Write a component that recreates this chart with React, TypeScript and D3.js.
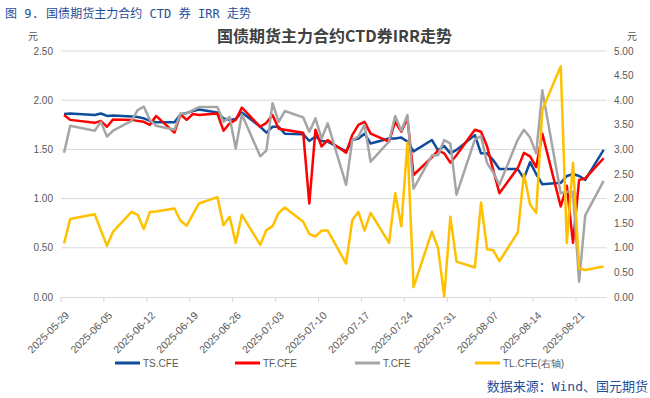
import React from 'react';
import * as d3 from 'd3';

const dates = [
  '2025-05-29', '2025-05-30', '2025-06-03', '2025-06-04', '2025-06-05', '2025-06-06', '2025-06-09', '2025-06-10',
  '2025-06-11', '2025-06-12', '2025-06-13', '2025-06-16', '2025-06-17', '2025-06-18', '2025-06-19', '2025-06-20',
  '2025-06-23', '2025-06-24', '2025-06-25', '2025-06-26', '2025-06-27', '2025-06-30', '2025-07-01', '2025-07-02',
  '2025-07-03', '2025-07-04', '2025-07-07', '2025-07-08', '2025-07-09', '2025-07-10', '2025-07-11', '2025-07-14',
  '2025-07-15', '2025-07-16', '2025-07-17', '2025-07-18', '2025-07-21', '2025-07-22', '2025-07-23', '2025-07-24',
  '2025-07-25', '2025-07-28', '2025-07-29', '2025-07-30', '2025-07-31', '2025-08-01', '2025-08-04', '2025-08-05',
  '2025-08-06', '2025-08-07', '2025-08-08', '2025-08-11', '2025-08-12', '2025-08-13', '2025-08-14', '2025-08-15',
  '2025-08-18', '2025-08-19', '2025-08-20', '2025-08-21', '2025-08-22', '2025-08-25',
];

const tsValues = [
  1.86, 1.865, 1.85, 1.865, 1.84, 1.845, 1.835, 1.83, 1.815, 1.79, 1.775, 1.775, 1.855, 1.87, 1.89, 1.905,
  1.875, 1.815, 1.80, 1.81, 1.875, 1.73, 1.67, 1.73, 1.73, 1.66, 1.655, 1.585, 1.63, 1.585, 1.58, 1.48,
  1.595, 1.61, 1.66, 1.56, 1.61, 1.61, 1.62, 1.58, 1.48, 1.595, 1.49, 1.535, 1.46, 1.495, 1.645, 1.46,
  1.46, 1.39, 1.30, 1.30, 1.205, 1.37, 1.25, 1.145, 1.16, 1.23, 1.25, 1.23, 1.19, 1.495,
];

const tfValues = [
  1.85, 1.80, 1.77, 1.79, 1.73, 1.805, 1.80, 1.79, 1.78, 1.75, 1.84, 1.67, 1.855, 1.80, 1.86, 1.85,
  1.865, 1.69, 1.765, 1.80, 1.925, 1.73, 1.77, 1.85, 1.71, 1.70, 1.67, 0.95, 1.70, 1.53, 1.595, 1.465,
  1.645, 1.75, 1.78, 1.66, 1.58, 1.78, 1.68, 1.815, 1.24, 1.42, 1.49, 1.46, 1.365, 1.44, 1.70, 1.68,
  1.53, 1.29, 1.055, 1.31, 1.465, 1.43, 1.32, 1.66, 0.92, 1.13, 0.55, 1.19, 1.205, 1.41,
];

const tValues = [
  1.465, 1.74, 1.69, 1.78, 1.63, 1.69, 1.79, 1.90, 1.935, 1.80, 1.74, 1.70, 1.865, 1.865, 1.90, 1.93,
  1.93, 1.78, 1.83, 1.51, 1.855, 1.43, 1.49, 1.97, 1.78, 1.89, 1.825, 1.68, 1.815, 1.61, 1.765, 1.14,
  1.595, 1.63, 1.75, 1.375, 1.58, 1.84, 1.69, 1.85, 1.10, 1.44, 1.44, 1.595, 1.56, 1.04, 1.60, 1.635,
  1.36, 1.265, 1.14, 1.60, 1.70, 1.62, 1.46, 2.10, 1.055, 1.07, 1.07, 0.155, 0.83, 1.18,
];

// TL 用右轴
const tlValues = [
  1.09, 1.585, 1.68, 1.36, 1.04, 1.33, 1.73, 1.67, 1.38, 1.73, 1.74, 1.80, 1.55, 1.45, 1.68, 1.90,
  2.03, 1.46, 1.63, 1.10, 1.67, 1.06, 1.36, 1.44, 1.71, 1.82, 1.53, 1.28, 1.23, 1.35, 1.35, 0.68,
  1.56, 1.73, 1.35, 1.71, 1.10, 2.11, 1.44, 3.14, 0.20, 1.33, 0.99, 0.01, 1.63, 0.72, 0.60, 1.92,
  0.97, 0.95, 0.73, 1.31, 2.50, 1.88, 1.71, 3.80, 4.69, 1.10, 2.73, 0.58, 0.55, 0.62,
];

const leftTicks = [0, 0.5, 1, 1.5, 2, 2.5];
const rightTicks = [0, 0.5, 1, 1.5, 2, 2.5, 3, 3.5, 4, 4.5, 5];

const series = [
  { name: 'TS.CFE', values: tsValues, color: '#0E4C9C', right: false },
  { name: 'TF.CFE', values: tfValues, color: '#FF0000', right: false },
  { name: 'T.CFE', values: tValues, color: '#A5A5A5', right: false },
  { name: 'TL.CFE(右轴)', values: tlValues, color: '#FFC000', right: true },
];

const parse = d3.timeParse('%Y-%m-%d');
const fmt = d3.timeFormat('%Y-%m-%d');

export default function App() {
  const left = 61, right = 606.7, top = 51, bottom = 297;
  const start = parse(dates[0]) as Date;
  const end = d3.timeDay.offset(parse(dates[dates.length - 1]) as Date, 1);

  const x = d3.scaleTime().domain([start, end]).range([left, right]);
  const yL = d3.scaleLinear().domain([0, 2.5]).range([bottom, top]);
  const yR = d3.scaleLinear().domain([0, 5]).range([bottom, top]);

  // 点位于每天的中间
  const px = (s: string) => x(d3.timeHour.offset(parse(s) as Date, 12));
  const xTicks = d3.timeDay.range(start, end, 7);

  const cjk = "'Noto Sans CJK SC', sans-serif";
  const mono = "'DejaVu Sans Mono', 'Noto Sans CJK SC', monospace";
  const num = "'Liberation Sans', sans-serif";
  const gray = '#595959';
  const blue = '#1F4E99';

  return (
    <svg width={650} height={398} style={{ position: 'absolute', left: 0, top: 0, background: '#fff' }}>
      <text x={5} y={18} fontSize={12} fill={blue} fontFamily={mono} textLength={246} lengthAdjust="spacing">
        图 9. 国债期货主力合约 CTD 券 IRR 走势
      </text>
      <text x={334.5} y={41.5} fontSize={16} fontWeight="bold" fill="#404040" textAnchor="middle" fontFamily={cjk}>
        国债期货主力合约CTD券IRR走势
      </text>
      <text x={33} y={40} fontSize={10} fill={gray} textAnchor="middle" fontFamily={cjk}>元</text>
      <text x={632} y={40} fontSize={10} fill={gray} textAnchor="middle" fontFamily={cjk}>元</text>

      {leftTicks.map((t) => (
        <g key={'l' + t}>
          {t > 0 && <line x1={left} x2={right} y1={yL(t)} y2={yL(t)} stroke="#D9D9D9" strokeWidth={1} />}
          <text x={53} y={yL(t) + 3.5} fontSize={10} fill={gray} textAnchor="end" fontFamily={num}>
            {d3.format('.2f')(t)}
          </text>
        </g>
      ))}
      {rightTicks.map((t) => (
        <text key={'r' + t} x={614} y={yR(t) + 3.5} fontSize={10} fill={gray} fontFamily={num}>
          {d3.format('.2f')(t)}
        </text>
      ))}

      <line x1={left} x2={right} y1={bottom + 0.5} y2={bottom + 0.5} stroke="#D9D9D9" strokeWidth={1} />
      {xTicks.map((d) => (
        <g key={fmt(d)}>
          <line x1={x(d)} x2={x(d)} y1={bottom} y2={bottom + 5} stroke="#D9D9D9" strokeWidth={1} />
          <text
            transform={`translate(${x(d) + 9},${bottom + 19}) rotate(-45)`}
            fontSize={10.5}
            fill={gray}
            textAnchor="end"
            fontFamily={num}
          >
            {fmt(d)}
          </text>
        </g>
      ))}

      {series.map((s) => {
        const y = s.right ? yR : yL;
        const line = d3.line<number>()
          .x((_, i) => px(dates[i]))
          .y((v) => y(v));
        return (
          <path key={s.name} d={line(s.values) ?? ''} fill="none" stroke={s.color} strokeWidth={2.5} strokeLinejoin="round" />
        );
      })}

      {series.map((s, i) => {
        const lx = 115 + i * 120;
        return (
          <g key={'lg' + s.name}>
            <line x1={lx} x2={lx + 25} y1={363} y2={363} stroke={s.color} strokeWidth={3} />
            <text x={lx + 28} y={366.5} fontSize={10} fill={gray} fontFamily={num}>{s.name}</text>
          </g>
        );
      })}

      <text x={648} y={391} fontSize={13} fill={blue} textAnchor="end" fontFamily={mono}>
        数据来源：Wind、国元期货
      </text>
    </svg>
  );
}
